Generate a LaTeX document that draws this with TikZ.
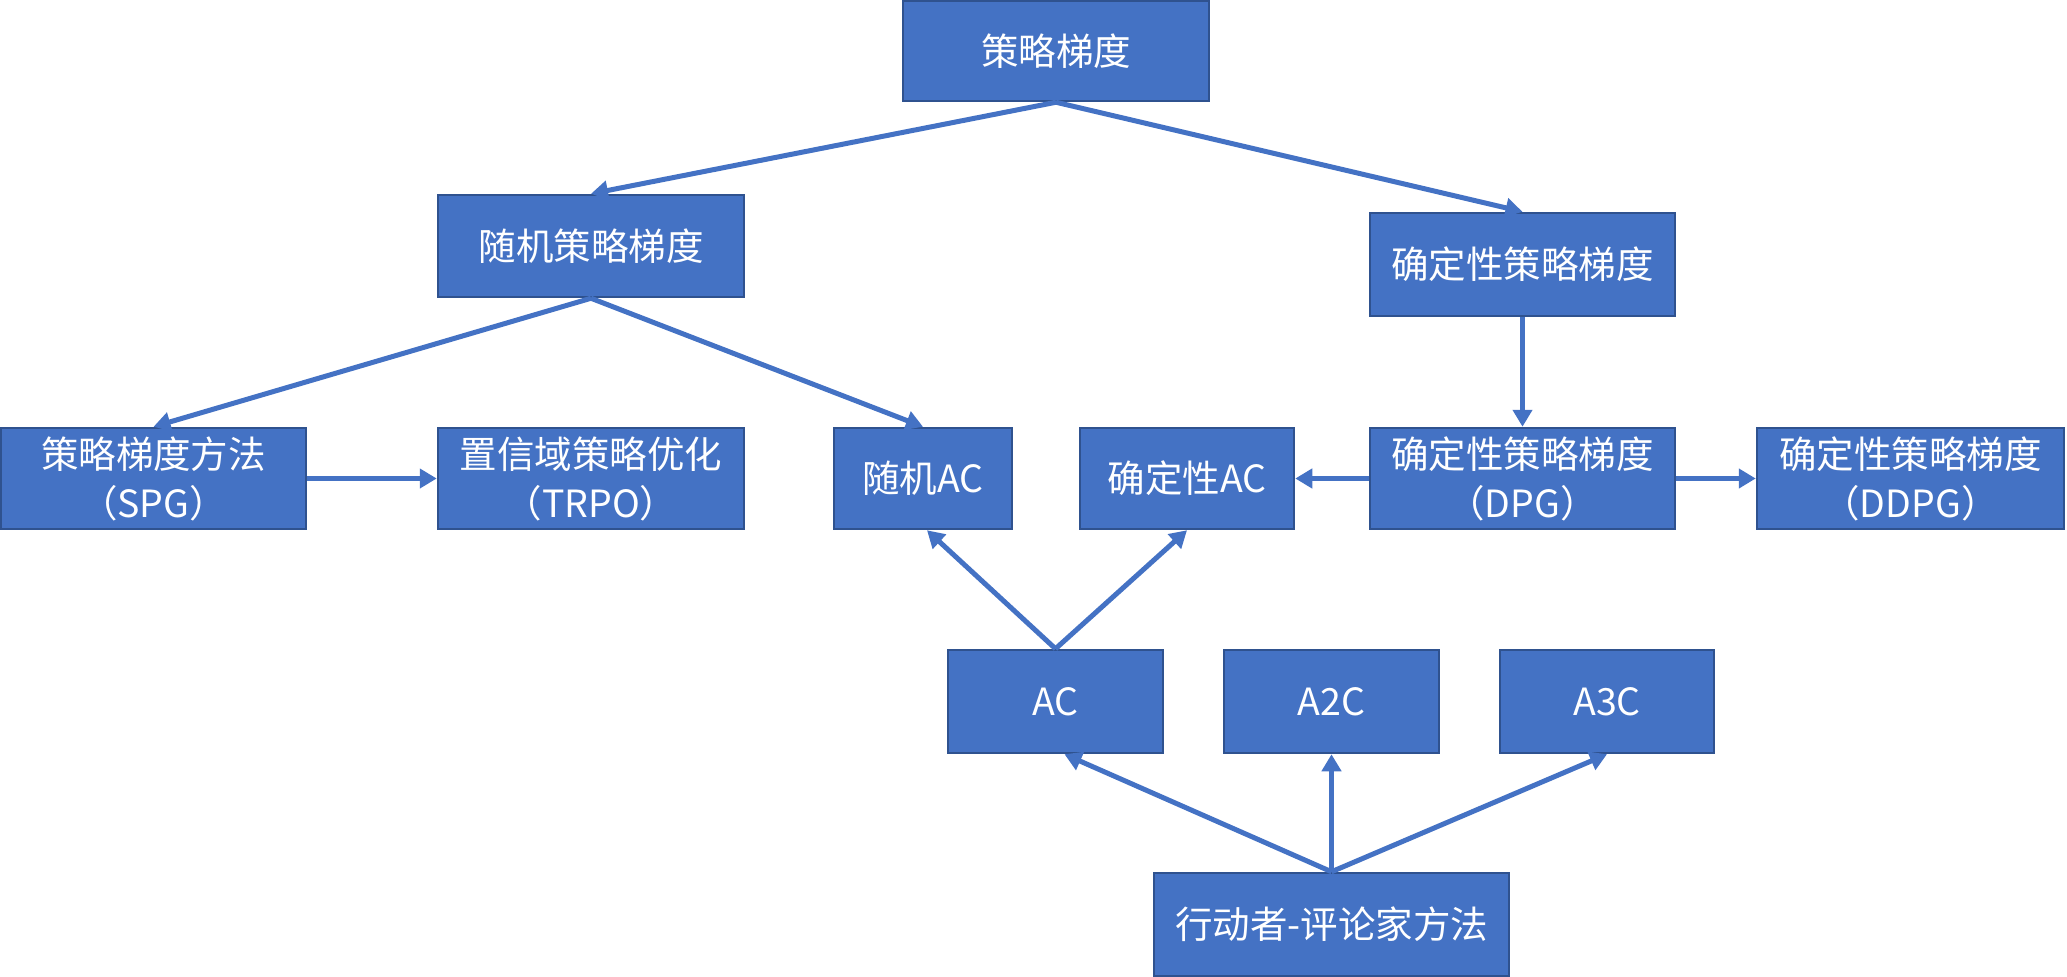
\documentclass[tikz,border=0pt]{standalone}
\usepackage{fontspec}
\setmainfont{Noto Sans CJK SC}
\usetikzlibrary{arrows.meta,calc}
\definecolor{boxfill}{HTML}{4472C4}
\definecolor{boxline}{HTML}{2F528F}
\begin{document}
\begin{tikzpicture}[x=1pt,y=-1pt,
  box/.style={draw=boxline, line width=2.5pt, fill=boxfill, text=white,
    font=\fontsize{37.5}{49}\selectfont, align=center, inner sep=0pt},
  conn/.style={draw=boxfill, line width=5pt, -{Triangle[length=17pt,width=19pt]}}]
\useasboundingbox (0,0) rectangle (2067,977);

\node[box, minimum width=306pt, minimum height=100pt] (top) at (1056,51) {策略梯度};
\node[box, minimum width=306pt, minimum height=102pt] (rsg) at (591,246) {随机策略梯度};
\node[box, minimum width=305pt, minimum height=103pt] (dsg) at (1522.5,264.5) {确定性策略梯度};

\node[box, minimum width=305pt, minimum height=101pt] (spg) at (153.5,478.5) {策略梯度方法\\（SPG）};
\node[box, minimum width=306pt, minimum height=101pt] (trpo) at (591,478.5) {置信域策略优化\\（TRPO）};
\node[box, minimum width=178pt, minimum height=101pt] (rac) at (923,478.5) {随机AC};
\node[box, minimum width=214pt, minimum height=101pt] (dac) at (1187,478.5) {确定性AC};
\node[box, minimum width=305pt, minimum height=101pt] (dpg) at (1522.5,478.5) {确定性策略梯度\\（DPG）};
\node[box, minimum width=307pt, minimum height=101pt] (ddpg) at (1910.5,478.5) {确定性策略梯度\\（DDPG）};

\node[box, minimum width=215pt, minimum height=103pt] (ac) at (1055.5,701.5) {AC};
\node[box, minimum width=215pt, minimum height=103pt] (a2c) at (1331.5,701.5) {A2C};
\node[box, minimum width=214pt, minimum height=103pt] (a3c) at (1607,701.5) {A3C};

\node[box, minimum width=355pt, minimum height=103pt] (acm) at (1331.5,924.5) {行动者-评论家方法};

\draw[conn] (top.south) -- (rsg.north);
\draw[conn] (top.south) -- (dsg.north);
\draw[conn] (rsg.south) -- (spg.north);
\draw[conn] (rsg.south) -- (rac.north);
\draw[conn] (spg.east) -- (trpo.west);
\draw[conn] (dsg.south) -- (dpg.north);
\draw[conn] (dpg.west) -- (dac.east);
\draw[conn] (dpg.east) -- (ddpg.west);
\draw[conn] (ac.north) -- ($(rac.south)+(4,0)$);
\draw[conn] (ac.north) -- (dac.south);
\draw[conn] (acm.north) -- ($(ac.south)+(9,0)$);
\draw[conn] (acm.north) -- (a2c.south);
\draw[conn] (acm.north) -- (a3c.south);
\end{tikzpicture}
\end{document}
